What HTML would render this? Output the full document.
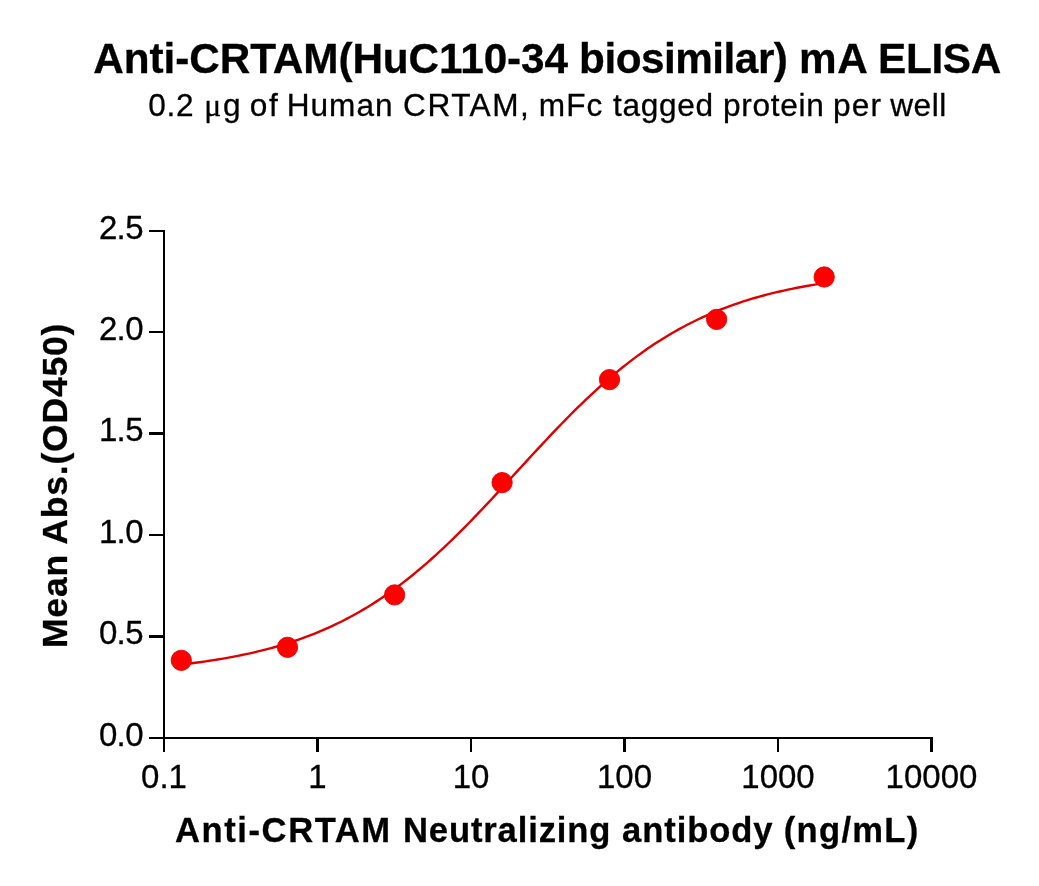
<!DOCTYPE html>
<html><head><meta charset="utf-8"><style>
html,body{margin:0;padding:0;background:#fff;}
svg{display:block;will-change:transform;}
text{font-family:"Liberation Sans",Arial,sans-serif;fill:#000;stroke:#000;stroke-width:0.3px;}
</style></head><body>
<svg width="1039" height="886" viewBox="0 0 1039 886">
<text x="93.30" y="73" font-size="42.3" font-weight="bold" textLength="474.79" lengthAdjust="spacing">Anti-CRTAM(HuC110-34</text>
<text x="579.10" y="73" font-size="42.3" font-weight="bold" textLength="208.83" lengthAdjust="spacing">biosimilar)</text>
<text x="798.90" y="73" font-size="42.3" font-weight="bold" textLength="68.80" lengthAdjust="spacing">mA</text>
<text x="878.00" y="73" font-size="42.3" font-weight="bold" textLength="123.31" lengthAdjust="spacing">ELISA</text>
<text x="148.35" y="116" font-size="31.6" font-weight="normal" textLength="45.27" lengthAdjust="spacing">0.2</text>
<text x="204.20" y="116" font-size="31.6" font-weight="normal" textLength="36.33" lengthAdjust="spacing"><tspan font-family="Liberation Serif">&#956;</tspan>g</text>
<text x="249.80" y="116" font-size="31.6" font-weight="normal" textLength="27.94" lengthAdjust="spacing">of</text>
<text x="286.70" y="116" font-size="31.6" font-weight="normal" textLength="105.86" lengthAdjust="spacing">Human</text>
<text x="403.10" y="116" font-size="31.6" font-weight="normal" textLength="125.63" lengthAdjust="spacing">CRTAM,</text>
<text x="538.80" y="116" font-size="31.6" font-weight="normal" textLength="63.52" lengthAdjust="spacing">mFc</text>
<text x="613.10" y="116" font-size="31.6" font-weight="normal" textLength="100.00" lengthAdjust="spacing">tagged</text>
<text x="722.90" y="116" font-size="31.6" font-weight="normal" textLength="100.81" lengthAdjust="spacing">protein</text>
<text x="832.90" y="116" font-size="31.6" font-weight="normal" textLength="48.07" lengthAdjust="spacing">per</text>
<text x="890.20" y="116" font-size="31.6" font-weight="normal" textLength="56.04" lengthAdjust="spacing">well</text>
<g fill="#000" shape-rendering="crispEdges">
<rect x="163" y="230" width="2" height="509"/>
<rect x="163" y="737" width="770" height="2"/>
<rect x="149" y="230" width="14" height="2"/>
<rect x="149" y="331" width="14" height="2"/>
<rect x="149" y="432" width="14" height="3"/>
<rect x="149" y="534" width="14" height="2"/>
<rect x="149" y="635" width="14" height="3"/>
<rect x="149" y="737" width="14" height="2"/>
<rect x="163" y="739" width="2" height="13"/>
<rect x="316" y="739" width="3" height="13"/>
<rect x="470" y="739" width="2" height="13"/>
<rect x="623" y="739" width="3" height="13"/>
<rect x="777" y="739" width="2" height="13"/>
<rect x="930" y="739" width="3" height="13"/>
</g>
<g font-size="33">
<text x="143.5" y="745.5" text-anchor="end" textLength="44.6" lengthAdjust="spacing">0.0</text>
<text x="143.5" y="644.1" text-anchor="end" textLength="44.6" lengthAdjust="spacing">0.5</text>
<text x="143.5" y="542.7" text-anchor="end" textLength="44.6" lengthAdjust="spacing">1.0</text>
<text x="143.5" y="441.3" text-anchor="end" textLength="44.6" lengthAdjust="spacing">1.5</text>
<text x="143.5" y="339.9" text-anchor="end" textLength="44.6" lengthAdjust="spacing">2.0</text>
<text x="143.5" y="238.5" text-anchor="end" textLength="44.6" lengthAdjust="spacing">2.5</text>
</g>
<g font-size="33">
<text x="164.0" y="788" text-anchor="middle">0.1</text>
<text x="317.5" y="788" text-anchor="middle">1</text>
<text x="471.0" y="788" text-anchor="middle">10</text>
<text x="624.5" y="788" text-anchor="middle">100</text>
<text x="778.0" y="788" text-anchor="middle">1000</text>
<text x="931.5" y="788" text-anchor="middle">10000</text>
</g>
<text transform="translate(67,485.8) rotate(-90)" text-anchor="middle" font-weight="bold" font-size="35.5" textLength="324.5" lengthAdjust="spacing">Mean Abs.(OD450)</text>
<text x="175.06" y="841.5" font-size="34.6" font-weight="bold" textLength="215.10" lengthAdjust="spacing">Anti-CRTAM</text>
<text x="403.00" y="841.5" font-size="34.6" font-weight="bold" textLength="207.38" lengthAdjust="spacing">Neutralizing</text>
<text x="622.00" y="841.5" font-size="34.6" font-weight="bold" textLength="150.59" lengthAdjust="spacing">antibody</text>
<text x="783.80" y="841.5" font-size="34.6" font-weight="bold" textLength="134.45" lengthAdjust="spacing">(ng/mL)</text>
<path d="M181.30,664.47 L185.34,664.01 L189.39,663.52 L193.43,663.02 L197.47,662.49 L201.52,661.94 L205.56,661.37 L209.60,660.77 L213.65,660.15 L217.69,659.51 L221.73,658.84 L225.78,658.14 L229.82,657.41 L233.86,656.66 L237.91,655.87 L241.95,655.05 L245.99,654.20 L250.04,653.32 L254.08,652.40 L258.12,651.44 L262.17,650.45 L266.21,649.42 L270.25,648.34 L274.30,647.23 L278.34,646.08 L282.38,644.88 L286.43,643.63 L290.47,642.34 L294.52,641.00 L298.56,639.62 L302.60,638.18 L306.65,636.69 L310.69,635.14 L314.73,633.55 L318.78,631.89 L322.82,630.18 L326.86,628.41 L330.91,626.58 L334.95,624.68 L338.99,622.73 L343.04,620.71 L347.08,618.63 L351.12,616.47 L355.17,614.26 L359.21,611.97 L363.25,609.61 L367.30,607.19 L371.34,604.69 L375.38,602.12 L379.43,599.48 L383.47,596.76 L387.51,593.97 L391.56,591.11 L395.60,588.18 L399.64,585.17 L403.69,582.08 L407.73,578.93 L411.77,575.70 L415.82,572.40 L419.86,569.02 L423.90,565.58 L427.95,562.06 L431.99,558.48 L436.03,554.83 L440.08,551.12 L444.12,547.34 L448.16,543.50 L452.21,539.61 L456.25,535.65 L460.29,531.64 L464.34,527.58 L468.38,523.48 L472.42,519.32 L476.47,515.13 L480.51,510.89 L484.55,506.62 L488.60,502.32 L492.64,497.99 L496.68,493.64 L500.73,489.26 L504.77,484.87 L508.82,480.47 L512.86,476.06 L516.90,471.65 L520.95,467.23 L524.99,462.82 L529.03,458.42 L533.08,454.03 L537.12,449.66 L541.16,445.31 L545.21,440.99 L549.25,436.69 L553.29,432.43 L557.34,428.20 L561.38,424.01 L565.42,419.86 L569.47,415.76 L573.51,411.71 L577.55,407.71 L581.60,403.77 L585.64,399.88 L589.68,396.05 L593.73,392.28 L597.77,388.58 L601.81,384.94 L605.86,381.37 L609.90,377.87 L613.94,374.44 L617.99,371.08 L622.03,367.79 L626.07,364.57 L630.12,361.42 L634.16,358.35 L638.20,355.36 L642.25,352.43 L646.29,349.58 L650.33,346.81 L654.38,344.10 L658.42,341.47 L662.46,338.92 L666.51,336.43 L670.55,334.02 L674.59,331.67 L678.64,329.40 L682.68,327.19 L686.72,325.05 L690.77,322.97 L694.81,320.97 L698.85,319.02 L702.90,317.14 L706.94,315.32 L710.98,313.56 L715.03,311.85 L719.07,310.21 L723.12,308.62 L727.16,307.09 L731.20,305.60 L735.25,304.17 L739.29,302.79 L743.33,301.46 L747.38,300.18 L751.42,298.94 L755.46,297.75 L759.51,296.60 L763.55,295.50 L767.59,294.43 L771.64,293.41 L775.68,292.42 L779.72,291.47 L783.77,290.56 L787.81,289.68 L791.85,288.83 L795.90,288.02 L799.94,287.24 L803.98,286.49 L808.03,285.77 L812.07,285.07 L816.11,284.41 L820.16,283.76 L824.20,283.15" fill="none" stroke="#e00000" stroke-width="2.4"/>
<g fill="#ff0000" stroke="#e60000" stroke-width="0.9">
<circle cx="181.3" cy="660.3" r="10.15"/>
<circle cx="287.5" cy="647.3" r="10.15"/>
<circle cx="394.6" cy="594.9" r="10.15"/>
<circle cx="502.1" cy="482.6" r="10.15"/>
<circle cx="609.5" cy="379.6" r="10.15"/>
<circle cx="716.6" cy="319.4" r="10.15"/>
<circle cx="824.2" cy="277.0" r="10.15"/>
</g>
</svg>
</body></html>
